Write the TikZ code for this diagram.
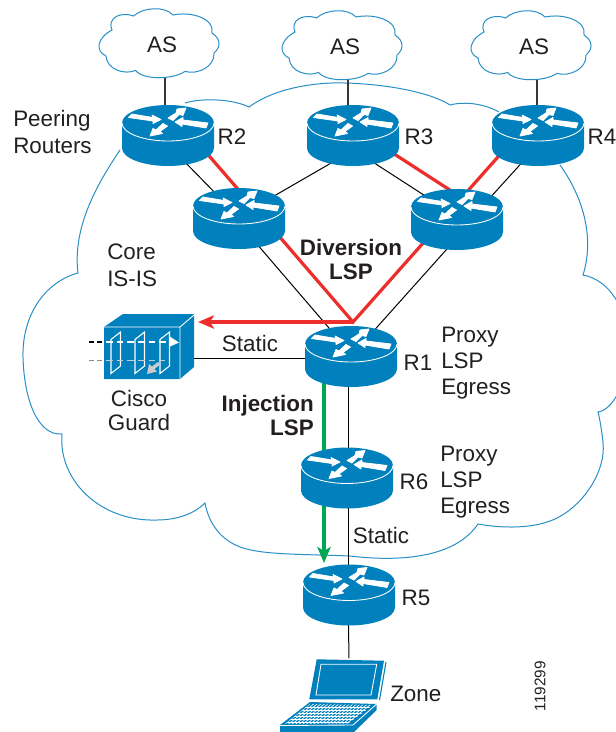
\documentclass[tikz,border=0pt]{standalone}
\usepackage{fontspec}
\setmainfont{Liberation Sans}
\usetikzlibrary{calc,arrows.meta}
\definecolor{cblue}{HTML}{0080BC}
\definecolor{cline}{HTML}{2A8FC6}
\definecolor{cred}{HTML}{EE2D2D}
\definecolor{cgreen}{HTML}{00A651}
\definecolor{ctext}{HTML}{231F20}
\tikzset{
  routerbox/.style={minimum width=69pt,minimum height=45.75pt,inner sep=0pt,outer sep=0pt},
  cloudline/.style={draw=cline,line width=0.75pt,line join=miter},
  lab/.style={text=ctext,font=\fontsize{16.8}{19.5}\selectfont,inner sep=0pt},
  labb/.style={text=ctext,font=\fontsize{16.8}{18}\selectfont\bfseries,inner sep=0pt},
  blk/.style={draw=black,line width=0.75pt},
  gry/.style={draw=ctext!90,line width=0.9pt},
  redl/.style={draw=cred,line width=2.4pt,line join=miter},
  grn/.style={draw=cgreen,line width=2.4pt},
  wht/.style={draw=white,line width=0.65pt},
  warrow/.style={fill=white,draw=white,line width=0.6pt,line join=round}
}
\newcommand{\drawrouter}[1]{%
  \begin{scope}[shift={(#1)}]
    \fill[cblue] (-46,-12.5) -- (-46,12.5) .. controls (-46,22.4) and (-25.4,30.5) .. (0,30.5)
      .. controls (25.4,30.5) and (46,22.4) .. (46,12.5) -- (46,-12.5)
      .. controls (46,-22.4) and (25.4,-30.5) .. (0,-30.5)
      .. controls (-25.4,-30.5) and (-46,-22.4) .. (-46,-12.5) -- cycle;
    \draw[wht] (-46,-12.5) .. controls (-46,-2.6) and (-25.4,5.5) .. (0,5.5)
      .. controls (25.4,5.5) and (46,-2.6) .. (46,-12.5);
    \begin{scope}[shift={(0,-12.5)}]
      \path[warrow] (-39.5,-5.5) -- (-36,-9) -- (-15,-5.5) -- (-16,-8) -- (-7,-3.5) -- (-15,0.5) -- (-15,-2) -- cycle;
      \path[warrow] (0,-5) -- (8,-10) -- (9,-14) -- (18,-15) -- (15,-7.5) -- (11,-8.5) -- (5,-2.5) -- cycle;
      \path[warrow] (7,-1) -- (15,-5.5) -- (15,-3) -- (40,0) -- (38,5) -- (14,1) -- (14,3.5) -- cycle;
      \path[warrow] (-18,13) -- (-15,5.5) -- (-12,7) -- (-5,0.5) -- (-0.5,3) -- (-8,8.5) -- (-5.5,10.5) -- cycle;
    \end{scope}
  \end{scope}}
\newcommand{\drawcloud}[1]{%
  \begin{scope}[shift={(#1)},shift={(-5,-2)}]
    \draw[cloudline] (-45,-13) .. controls (-50,-24) and (-38,-32) .. (-23.4,-27)
      .. controls (-14,-36) and (8,-37) .. (16,-28)
      .. controls (35,-32) and (58,-24) .. (55,-10)
      .. controls (64,-4) and (64,4) .. (57,10)
      .. controls (58,24) and (40,32) .. (28,28.4)
      .. controls (15,37) and (-14,37) .. (-21.5,27.4)
      .. controls (-32,32) and (-50,27) .. (-51,13)
      .. controls (-62,8) and (-60,-5) .. (-45,-13) -- cycle;
  \end{scope}}
\begin{document}
\begin{tikzpicture}[x=0.75pt,y=-0.75pt]
\useasboundingbox (0,0) rectangle (616,732);
\fill[white] (0,0) rectangle (616,732);
\clip (0,0) rectangle (616,732);

% big cloud
\draw[cloudline] (120,150) .. controls (100,180) and (72,225) .. (78,273)
  .. controls (45,282) and (22,315) .. (23,357)
  .. controls (24,400) and (38,436) .. (62,434)
  .. controls (58,480) and (100,522) .. (157,520)
  .. controls (178,520) and (195,513) .. (205,503)
  .. controls (209,525) and (222,540) .. (240,547)
  .. controls (262,555) and (300,554) .. (350,556)
  .. controls (400,562) and (455,558) .. (478,524)
  .. controls (500,528) and (535,530) .. (559,517)
  .. controls (585,503) and (606,470) .. (603,443)
  .. controls (602,432) and (600,420) .. (598,412)
  .. controls (612,410) and (628,385) .. (628,345)
  .. controls (628,310) and (610,280) .. (583,275)
  .. controls (594,240) and (585,200) .. (560,165);
\draw[cloudline] (185,103) .. controls (205,97) and (235,100) .. (249,107)
  .. controls (275,88) and (315,82) .. (345,83)
  .. controls (385,84) and (430,92) .. (450,105)
  .. controls (465,101) and (485,104) .. (499,112);

% node frames
\node[routerbox] (r2) at (168,135.5) {};
\node[routerbox] (r3) at (353,135.5) {};
\node[routerbox] (r4) at (538,135.5) {};
\node[routerbox] (rl) at (239,218.5) {};
\node[routerbox] (rr) at (457,219.5) {};
\node[routerbox] (r1) at (351,356.5) {};
\node[routerbox] (r6) at (347,478) {};
\node[routerbox] (r5) at (349,595) {};
\node[minimum width=67.5pt,minimum height=48pt,inner sep=0pt] (guard) at (149,346.5) {};
\node[minimum width=80pt,minimum height=54pt,inner sep=0pt] (lap) at (345,696) {};
\node[lab] (as1) at (162,45) {AS};
\node[lab] (as2) at (345,47) {AS};
\node[lab] (as3) at (534,47) {AS};
\coordinate (hub) at (353,322);
\coordinate (guardtip) at (198,322);

\drawcloud{as1}
\drawcloud{as2}
\drawcloud{as3}

% connectors
\draw[gry] ($(as1)+(3,33)$) -- ($(r2)+(-3,-20)$);
\draw[gry] ($(as2)+(3,33)$) -- ($(r3)+(-5,-20)$);
\draw[gry] ($(as3)+(3,33)$) -- ($(r4)+(-1,-20)$);
\draw[blk] ($(r2)+(12,21.5)$) -- ($(rl)+(-17,-18.5)$);
\draw[blk] ($(rl)+(23,-15.5)$) -- ($(r3)+(-8,19.5)$);
\draw[blk] ($(r3)+(12,21.5)$) -- ($(rr)+(-27,-20.5)$);
\draw[blk] ($(r4)+(-11,21.5)$) -- ($(rr)+(31,-19.5)$);
\draw[blk] ($(rl)+(11,17.5)$) -- ($(r1)+(-16,-21.5)$);
\draw[blk] ($(rr)+(-2,20.5)$) -- ($(r1)+(19,-21.5)$);
\draw[blk] ($(guard)+(40,11.5)$) -- ($(r1)+(-10,1.5)$);
\draw[blk] ($(r1)+(-3,0)$) -- ($(r6)+(1,0)$);
\draw[blk] ($(r6)+(1,0)$) -- ($(r5)+(-1,0)$);
\draw[blk] ($(r5)+(-1,0)$) -- ($(lap)+(4,-38)$);
\draw[redl] ($(r2)+(36,14.5)$) -- ($(rl)+(4,-23.5)$);
\draw[redl] ($(r3)+(32,12.5)$) -- ($(rr)+(-1,-25.5)$);
\draw[redl] ($(r4)+(-33,13.5)$) -- ($(rr)+(8,-25.5)$);
\draw[redl] ($(rl)+(33,9.5)$) -- (hub) -- ($(rr)+(-25,13.5)$);
\draw[redl,-{Stealth[length=12pt,width=10pt,inset=3pt]}] (hub) -- (guardtip);
\draw[grn] ($(r1)+(-27,25)$) -- ($(r6)+(-23,-25)$);
\draw[grn,-{Stealth[length=12pt,width=10pt,inset=3pt]}] ($(r6)+(-23,25)$) -- ($(r5)+(-25,-32)$);

% routers
\drawrouter{r2}\drawrouter{r3}\drawrouter{r4}\drawrouter{rl}\drawrouter{rr}\drawrouter{r1}\drawrouter{r6}\drawrouter{r5}

% guard
\fill[cblue] (104,327) -- (123,314) -- (194,314) -- (194,367) -- (180,379) -- (104,379) -- cycle;
\draw[wht] (104,327) -- (180,327) -- (180,379) (180,327) -- (194,315);
\foreach \gx in {111,135,160}{
  \draw[wht,line width=0.8pt] (\gx,339.5) -- (\gx+9.5,332) -- (\gx+9.5,366) -- (\gx,373.5) -- cycle;
}
\draw[wht,dash pattern=on 5pt off 3pt,line width=1pt] (106,342) -- (170,342);
\draw[draw=white!80!black,dash pattern=on 5pt off 3pt,line width=1pt] (106,360.7) -- (165,360.7);
\draw[draw=black,dash pattern=on 4pt off 2pt,line width=1pt] (89,342) -- (105,342);
\draw[draw=black!45,dash pattern=on 4pt off 2pt,line width=1pt] (89,360.7) -- (105,360.7);
\fill[white] (169,336) -- (179,342.5) -- (169,347) -- cycle;
\fill[white!80!black] (147,374) -- (149,364) -- (152,366.5) -- (158,362) -- (160,364.5) -- (154.5,369) -- (157,371.5) -- cycle;

% laptop
\fill[cblue] (316.7,659.3) -- (384,660.7) -- (377.3,699.3) -- (309.3,699.3) -- cycle;
\draw[cblue,line width=0.8pt] (386,662) -- (379.5,700);
\draw[wht] (321,664.3) -- (376.7,664.3) -- (371,695) -- (316,695) -- cycle;
\fill[cblue] (310,702) -- (376.7,704) -- (376.7,710) -- (353,733) -- (280,734) -- (280,725) -- cycle;
\draw[wht] (280,725.5) -- (353,725) -- (376.7,704);
\begin{scope}
  \clip (310,704) -- (373,705) -- (348,723.5) -- (285,724) -- cycle;
  \foreach \gy in {707,710,713,716,719,722}{ \draw[white,line width=0.5pt] (270,\gy) -- (380,\gy); }
  \foreach \gk in {0,...,17}{ \draw[white,line width=0.5pt] (310+\gk*3.6,704) -- (285+\gk*3.6,724); }
\end{scope}

% labels
\node[lab,align=left,anchor=west,font=\fontsize{16.8}{20.5}\selectfont] (peer) at (13,132) {Peering\\Routers};
\node[lab] (l2) at (232,137) {R2};
\node[lab] (l3) at (419,137) {R3};
\node[lab] (l4) at (602,137) {R4};
\node[lab,align=left,anchor=west,font=\fontsize{16.8}{20}\selectfont] (core) at (107,265) {Core\\IS-IS};
\node[lab,align=center,font=\fontsize{16.8}{18}\selectfont] (cg) at (139,410) {Cisco\\Guard};
\node[labb,align=center] (div) at (351,259) {Diversion\\LSP};
\node[labb,align=right,anchor=east] (inj) at (314,415) {Injection\\LSP};
\node[lab] (s1) at (250,343) {Static};
\node[lab] (s2) at (381,535) {Static};
\node[lab] (l1) at (418,363) {R1};
\node[lab] (l6) at (414,482) {R6};
\node[lab] (l5) at (416,598) {R5};
\node[lab,align=left,anchor=west] (p1) at (441,363) {Proxy\\LSP\\Egress};
\node[lab,align=left,anchor=west] (p2) at (440,482) {Proxy\\LSP\\Egress};
\node[lab,anchor=west] (zone) at (390,694) {Zone};
\node[text=ctext,font=\fontsize{11.5}{13}\selectfont,rotate=90,inner sep=0pt] (num) at (540,686) {119299};
\end{tikzpicture}
\end{document}
